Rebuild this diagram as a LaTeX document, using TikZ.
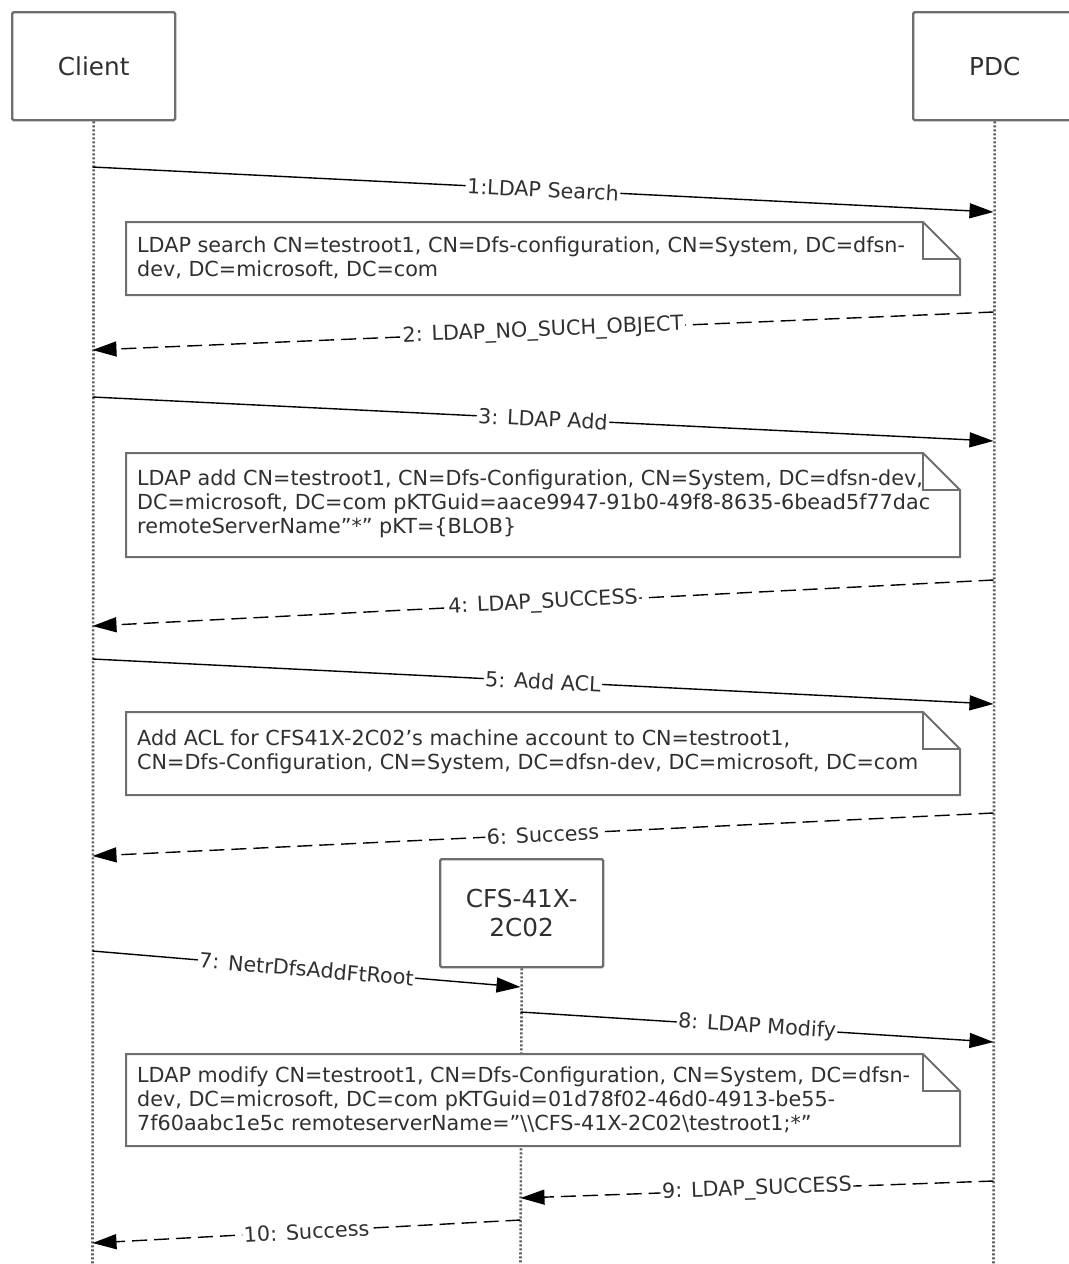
\documentclass[tikz,border=0pt]{standalone}
\usepackage{fontspec}
\setmainfont{DejaVu Sans}
\usetikzlibrary{arrows.meta}
\definecolor{txt}{HTML}{303030}
\definecolor{boxc}{HTML}{6E6E6E}
\definecolor{lifec}{HTML}{5A5A5A}
\begin{document}
\begin{tikzpicture}[x=1bp,y=-1bp,
  actor/.style={draw=boxc, fill=white, line width=2.4bp, rounded corners=1.5bp, minimum width=163bp, minimum height=108bp,
    inner sep=0pt, font=\fontsize{24.8}{29}\selectfont, text=txt, align=center, anchor=north west},
  life/.style={draw=lifec, line width=2.6bp, dash pattern=on 2bp off 2bp},
  msg/.style={draw=black, line width=1.4bp, -{Triangle[length=24bp,width=15bp]}},
  reply/.style={msg, dash pattern=on 15bp off 7bp},
  lbl/.style={sloped, fill=white, inner sep=1.5bp, text=txt, font=\fontsize{20.8}{24}\selectfont, pos=0.5},
  notetext/.style={anchor=west, align=left, text=txt, font=\fontsize{20.8}{24}\selectfont, inner sep=0pt},
  notebox/.style={draw=boxc, fill=white, line width=2bp, line join=miter},
  notefold/.style={draw=boxc, line width=2bp, line join=miter}
]
\path[use as bounding box] (0,0) rectangle (1069,1264);
\clip (0,0) rectangle (1069,1264);

% actors
\node[actor] (client) at (11,11) {Client};
\node[actor] (pdc) at (912,11) {PDC};
\node[actor] (cfs) at (439,858) {CFS-41X-\\2C02};

% lifelines
\coordinate (clientend) at (92.5,1264);
\coordinate (pdcend) at (993.5,1264);
\coordinate (cfsend) at (520.5,1264);
\draw[life] (client.south) -- (clientend);
\draw[life] (pdc.south) -- (pdcend);
\draw[life] (cfs.south) -- (cfsend);

% message end points
\coordinate (c1) at (92.5,167);  \coordinate (p1) at (993.5,212);
\coordinate (p2) at (993.5,312); \coordinate (c2) at (92.5,350);
\coordinate (c3) at (92.5,397);  \coordinate (p3) at (993.5,441);
\coordinate (p4) at (993.5,580); \coordinate (c4) at (92.5,626);
\coordinate (c5) at (92.5,659);  \coordinate (p5) at (993.5,704);
\coordinate (p6) at (993.5,813); \coordinate (c6) at (92.5,856);
\coordinate (c7) at (92.5,951);  \coordinate (f7) at (520.5,987);
\coordinate (f8) at (520.5,1012); \coordinate (p8) at (993.5,1042);
\coordinate (p9) at (993.5,1181); \coordinate (f9) at (520.5,1198);
\coordinate (f10) at (520.5,1220); \coordinate (c10) at (92.5,1243);

% notes
\draw[notebox] (126,222) -- (923,222) -- (960,259) -- (960,295) -- (126,295) -- cycle;
\draw[notefold] (923,222) -- (923,259) -- (960,259);
\node[notetext] (n1) at (137,258) {LDAP search CN=testroot1, CN=Dfs-configuration, CN=System, DC=dfsn-\\dev, DC=microsoft, DC=com};

\draw[notebox] (126,453) -- (923,453) -- (960,490) -- (960,557) -- (126,557) -- cycle;
\draw[notefold] (923,453) -- (923,490) -- (960,490);
\node[notetext] (n2) at (137,504) {LDAP add CN=testroot1, CN=Dfs-Configuration, CN=System, DC=dfsn-dev,\\DC=microsoft, DC=com pKTGuid=aace9947-91b0-49f8-8635-6bead5f77dac\\remoteServerName”*” pKT=\{BLOB\}};

\draw[notebox] (126,712) -- (923,712) -- (960,749) -- (960,795) -- (126,795) -- cycle;
\draw[notefold] (923,712) -- (923,749) -- (960,749);
\node[notetext] (n3) at (137,752) {Add ACL for CFS41X-2C02's machine account to CN=testroot1,\\CN=Dfs-Configuration, CN=System, DC=dfsn-dev, DC=microsoft, DC=com};

\draw[notebox] (126,1054) -- (923,1054) -- (960,1091) -- (960,1146) -- (126,1146) -- cycle;
\draw[notefold] (923,1054) -- (923,1091) -- (960,1091);
\node[notetext] (n4) at (137,1100) {LDAP modify CN=testroot1, CN=Dfs-Configuration, CN=System, DC=dfsn-\\dev, DC=microsoft, DC=com pKTGuid=01d78f02-46d0-4913-be55-\\7f60aabc1e5c remoteserverName=”\textbackslash\textbackslash CFS-41X-2C02\textbackslash testroot1;*”};

% messages
\draw[msg] (c1) -- node[lbl] (l1) {1:LDAP Search} (p1);
\draw[reply] (p2) -- node[lbl] (l2) {2: LDAP\_NO\_SUCH\_OBJECT} (c2);
\draw[msg] (c3) -- node[lbl] (l3) {3: LDAP Add} (p3);
\draw[reply] (p4) -- node[lbl] (l4) {4: LDAP\_SUCCESS} (c4);
\draw[msg] (c5) -- node[lbl] (l5) {5: Add ACL} (p5);
\draw[reply] (p6) -- node[lbl] (l6) {6: Success} (c6);
\draw[msg] (c7) -- node[lbl] (l7) {7: NetrDfsAddFtRoot} (f7);
\draw[msg] (f8) -- node[lbl] (l8) {8: LDAP Modify} (p8);
\draw[reply] (p9) -- node[lbl] (l9) {9: LDAP\_SUCCESS} (f9);
\draw[reply] (f10) -- node[lbl] (l10) {10: Success} (c10);
\end{tikzpicture}
\end{document}
